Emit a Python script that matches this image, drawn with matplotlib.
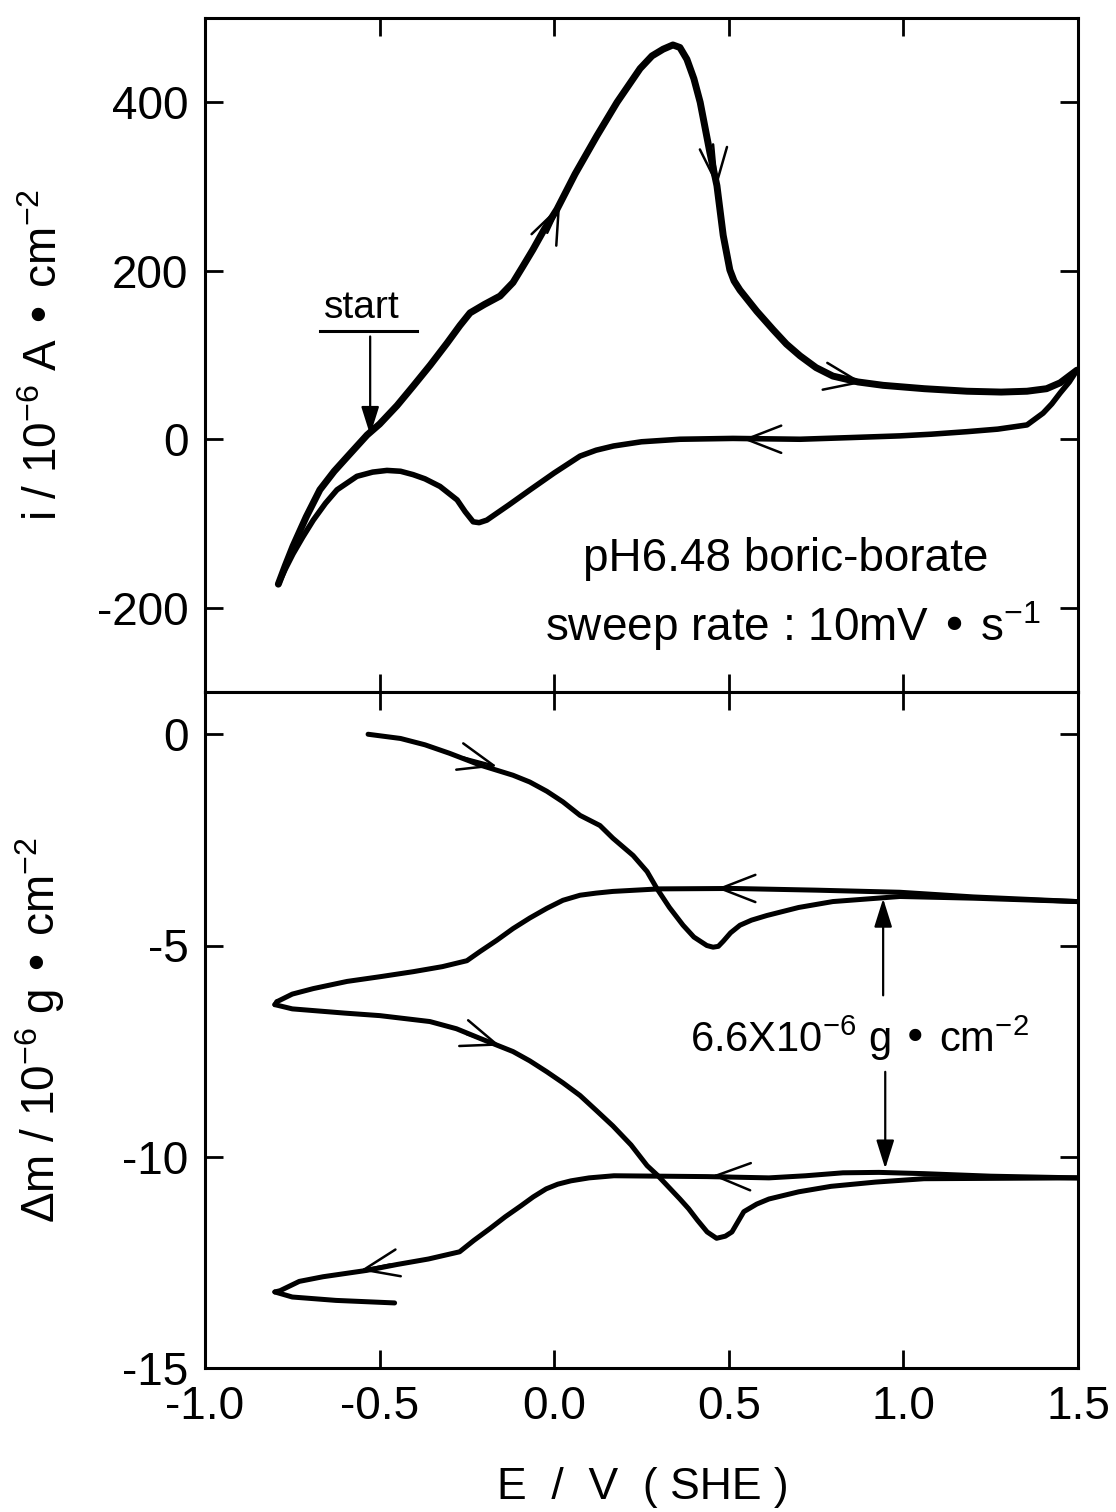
import numpy as np
import matplotlib
matplotlib.use("Agg")
import matplotlib.pyplot as plt

plt.rcParams['font.family'] = ['Liberation Sans', 'DejaVu Sans']
plt.rcParams['axes.unicode_minus'] = False

# ---------------- data ----------------
# Top panel: cyclic voltammogram (current density, 1e-6 A cm^-2)
E_anodic = [-0.79, -0.77, -0.748, -0.71, -0.671, -0.63, -0.593, -0.536, -0.50, -0.45, -0.404,
            -0.355, -0.307, -0.27, -0.241, -0.20, -0.155, -0.118, -0.09, -0.061, -0.03, 0.008,
            0.06, 0.122, 0.18, 0.246, 0.28, 0.312, 0.34, 0.36, 0.38, 0.40, 0.418, 0.446,
            0.466, 0.484, 0.503, 0.515, 0.532, 0.58, 0.627, 0.665, 0.704, 0.75, 0.798, 0.87,
            0.942, 1.06, 1.182, 1.28, 1.354, 1.41, 1.449, 1.497]
i_anodic = [-172, -150, -127, -92, -60, -38, -21, 5, 18, 40, 63,
            88, 114, 135, 150, 160, 170, 186, 205, 225, 248, 273,
            315, 360, 400, 440, 455, 463, 468, 465, 451, 428, 400, 340,
            301, 242, 201, 188, 177, 152, 130, 113, 99, 85, 75, 68,
            64, 60, 57, 56, 57, 60, 67, 82]
E_cathodic = [1.497, 1.475, 1.449, 1.425, 1.40, 1.354, 1.27, 1.182, 1.08, 0.99, 0.85, 0.704,
              0.512, 0.36, 0.25, 0.17, 0.12, 0.074, 0.0, -0.069, -0.13, -0.193, -0.215,
              -0.232, -0.255, -0.278, -0.327, -0.37, -0.404, -0.44, -0.479, -0.52, -0.565,
              -0.622, -0.655, -0.69, -0.72, -0.748, -0.77, -0.79]
i_cathodic = [82, 68, 55, 42, 31, 17, 12, 9, 6, 4, 2, 0,
              1, 0, -3, -8, -13, -20, -40, -60, -78, -96, -99,
              -98, -86, -72, -56, -47, -42, -38, -37, -39, -44,
              -60, -76, -96, -116, -136, -154, -172]

# Bottom panel: mass change (1e-6 g cm^-2), two cycles
E_c1_fwd = [-0.533, -0.44, -0.37, -0.30, -0.212, -0.118, -0.07, -0.021, 0.025, 0.074, 0.131,
            0.168, 0.226, 0.266, 0.294, 0.33, 0.369, 0.40, 0.437, 0.455, 0.47, 0.484, 0.505,
            0.532, 0.565, 0.609, 0.70, 0.798, 0.99, 1.2, 1.497]
m_c1_fwd = [0.0, -0.1, -0.25, -0.45, -0.73, -0.97, -1.13, -1.35, -1.6, -1.92, -2.16,
            -2.46, -2.87, -3.25, -3.65, -4.1, -4.52, -4.8, -5.0, -5.04, -5.02, -4.9, -4.7,
            -4.52, -4.4, -4.29, -4.1, -3.96, -3.84, -3.88, -3.96]
E_c1_rev = [1.497, 1.2, 0.99, 0.75, 0.512, 0.3, 0.168, 0.12, 0.074, 0.025, -0.021, -0.07,
            -0.118, -0.165, -0.212, -0.25, -0.32, -0.404, -0.50, -0.593, -0.69, -0.75, -0.794]
m_c1_rev = [-3.96, -3.85, -3.74, -3.69, -3.65, -3.66, -3.72, -3.76, -3.81, -3.93, -4.12, -4.35,
            -4.6, -4.88, -5.14, -5.36, -5.5, -5.62, -5.74, -5.85, -6.02, -6.15, -6.33]
E_c2_fwd = [-0.80, -0.75, -0.69, -0.60, -0.499, -0.356, -0.28, -0.212, -0.118, -0.07, -0.021,
            0.025, 0.074, 0.12, 0.168, 0.22, 0.266, 0.296, 0.36, 0.385, 0.41, 0.438, 0.465,
            0.49, 0.509, 0.543, 0.58, 0.615, 0.70, 0.793, 0.92, 1.059, 1.497]
m_c2_fwd = [-6.4, -6.5, -6.54, -6.6, -6.66, -6.8, -6.97, -7.2, -7.51, -7.73, -7.99,
            -8.25, -8.55, -8.9, -9.27, -9.72, -10.21, -10.44, -11.0, -11.23, -11.5, -11.78, -11.93,
            -11.88, -11.78, -11.3, -11.12, -11.0, -10.83, -10.7, -10.6, -10.52, -10.5]
E_c2_rev = [1.497, 1.25, 1.059, 0.93, 0.827, 0.72, 0.615, 0.438, 0.171, 0.10, 0.048, 0.01,
            -0.023, -0.06, -0.095, -0.14, -0.184, -0.23, -0.271, -0.36, -0.45, -0.537,
            -0.662, -0.73, -0.785, -0.80]
m_c2_rev = [-10.5, -10.46, -10.4, -10.37, -10.38, -10.45, -10.5, -10.47, -10.45, -10.5,
            -10.57, -10.65, -10.76, -10.95, -11.16, -11.42, -11.7, -11.98, -12.25, -12.42,
            -12.55, -12.69, -12.84, -12.95, -13.17, -13.2]
E_c3_fwd = [-0.80, -0.75, -0.625, -0.457]
m_c3_fwd = [-13.2, -13.32, -13.4, -13.46]

x_ticks = [-1.0, -0.5, 0.0, 0.5, 1.0, 1.5]
x_ticklabels = ['-1.0', '-0.5', '0.0', '0.5', '1.0', '1.5']
top_yticks = [400, 200, 0, -200]
bot_yticks = [0, -5, -10, -15]

# ---------------- figure ----------------
fig = plt.figure(figsize=(11.16, 15.12), dpi=100)
W, H = 1116, 1512
L, R = 205, 1078
T, M, B = 18, 692, 1368
ax1 = fig.add_axes([L / W, 1 - M / H, (R - L) / W, (M - T) / H])
ax2 = fig.add_axes([L / W, 1 - B / H, (R - L) / W, (B - M) / H])

FS = 33
for ax in (ax1, ax2):
    ax.set_xlim(-1.0, 1.5)
    ax.set_xticks(x_ticks)
    ax.tick_params(direction='in', length=13, width=2.0, top=True, right=True,
                   labelsize=FS, pad=12)
    for s in ax.spines.values():
        s.set_linewidth(2.2)

ax1.set_ylim(-300, 500)
ax1.set_yticks(top_yticks)
ax1.set_yticklabels([str(v) for v in top_yticks])
ax1.tick_params(labelbottom=False)

ax2.set_ylim(-15, 1)
ax2.set_yticks(bot_yticks)
ax2.set_yticklabels([str(v) for v in bot_yticks])
ax2.set_xticklabels(x_ticklabels)

# curves
ax1.plot(E_anodic, i_anodic, color='black', lw=5.0, solid_joinstyle='round', solid_capstyle='round')
ax1.plot(E_cathodic, i_cathodic, color='black', lw=4.0, solid_joinstyle='round', solid_capstyle='round')

for ex, my in ((E_c1_fwd, m_c1_fwd), (E_c1_rev, m_c1_rev), (E_c2_fwd, m_c2_fwd),
               (E_c2_rev, m_c2_rev), (E_c3_fwd, m_c3_fwd)):
    ax2.plot(ex, my, color='black', lw=3.6, solid_joinstyle='round', solid_capstyle='round')
# join turning points
ax2.plot([E_c1_rev[-1], E_c2_fwd[0]], [m_c1_rev[-1], m_c2_fwd[0]], color='black', lw=3.6,
         solid_capstyle='round')

# direction arrows (open V heads)
def vhead(ax, tip, tail):
    ax.annotate('', xy=tip, xytext=tail,
                arrowprops=dict(arrowstyle='->,head_length=0.9,head_width=0.35',
                                lw=1.8, color='black', mutation_scale=28,
                                shrinkA=0, shrinkB=0))

vhead(ax1, (0.017, 278), (-0.02, 245))
vhead(ax1, (0.466, 300), (0.455, 350))
vhead(ax1, (0.884, 67), (0.80, 73))
vhead(ax1, (0.54, 0), (0.63, 0))

vhead(ax2, (-0.164, -0.76), (-0.26, -0.55))
vhead(ax2, (-0.155, -7.37), (-0.25, -7.1))
vhead(ax2, (0.466, -3.65), (0.56, -3.65))
vhead(ax2, (0.452, -10.45), (0.55, -10.47))
vhead(ax2, (-0.555, -12.69), (-0.47, -12.55))

# start annotation
ax1.plot([-0.671, -0.393], [128.6, 128.6], color='black', lw=2.2)
ax1.text(-0.55, 144, 'start', fontsize=28, ha='center', va='baseline')
ax1.annotate('', xy=(-0.527, 5), xytext=(-0.527, 122),
             arrowprops=dict(arrowstyle='-|>,head_length=0.7,head_width=0.22',
                             lw=1.6, color='black', mutation_scale=25,
                             shrinkA=0, shrinkB=0))

ax1.text(0.664, -156, 'pH6.48 boric-borate', fontsize=FS, ha='center', va='baseline')
ax1.text(0.684, -240, 'sweep rate : 10mV \u2022 s$\\mathregular{^{-1}}$', fontsize=FS,
         ha='center', va='baseline')

# 6.6e-6 double arrow
ax2.annotate('', xy=(0.942, -3.89), xytext=(0.942, -6.18),
             arrowprops=dict(arrowstyle='-|>,head_length=0.7,head_width=0.22',
                             lw=1.6, color='black', mutation_scale=25, shrinkA=0, shrinkB=0))
ax2.annotate('', xy=(0.948, -10.28), xytext=(0.948, -7.99),
             arrowprops=dict(arrowstyle='-|>,head_length=0.7,head_width=0.22',
                             lw=1.6, color='black', mutation_scale=25, shrinkA=0, shrinkB=0))
ax2.text(0.873, -7.51, '6.6X10$\\mathregular{^{-6}}$ g \u2022 cm$\\mathregular{^{-2}}$',
         fontsize=30, ha='center', va='baseline')

# axis labels
ax1.set_ylabel('i / 10$\\mathregular{^{-6}}$ A \u2022 cm$\\mathregular{^{-2}}$', fontsize=FS)
ax2.set_ylabel('\u0394m / 10$\\mathregular{^{-6}}$ g \u2022 cm$\\mathregular{^{-2}}$', fontsize=FS)
ax1.yaxis.set_label_coords(-0.158, 0.5)
ax2.yaxis.set_label_coords(-0.158, 0.5)
fig.text(643 / W, 1 - 1487 / H, 'E  /  V  ( SHE )', fontsize=32, ha='center', va='center')

fig.savefig('out.png', dpi=100, facecolor='white')
